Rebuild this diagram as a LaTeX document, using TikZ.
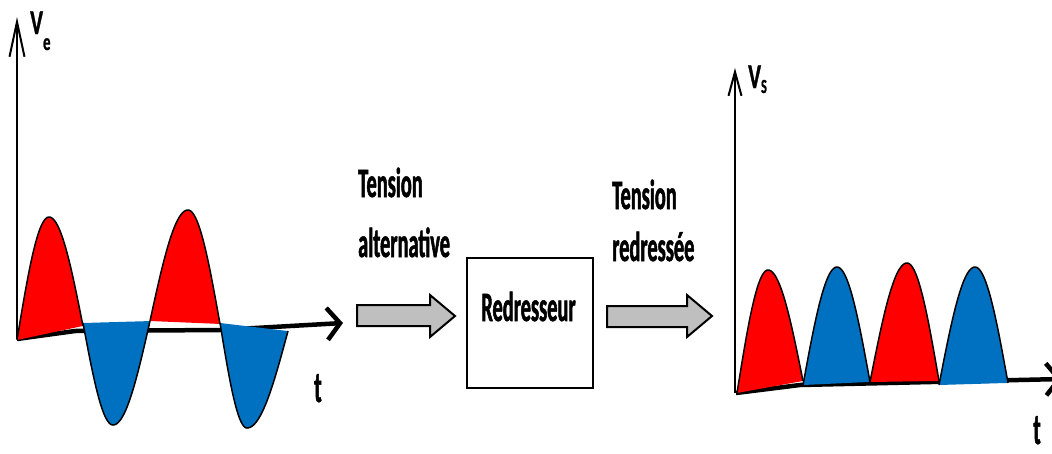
\documentclass[tikz,border=0pt]{standalone}
\usepackage{fontspec}
\newfontfamily\nar[FakeStretch=0.485,BoldFeatures={FakeBold=1.2}]{Carlito}
\newfontfamily\narax[FakeStretch=0.62,BoldFeatures={FakeBold=0.8}]{Carlito}
\usetikzlibrary{arrows.meta}

\definecolor{humpred}{HTML}{FF0000}
\definecolor{humpblue}{HTML}{0070C0}

% one half-wave: fill colour, start point, peak point, end point
\newcommand{\hump}[7]{%
  \fill[#1] plot[domain=0:1,samples=30,variable=\q]
      ({#2+(#4-#2)*\q},{#3+(#5-#3)*sin(90*\q)})
    -- plot[domain=0:1,samples=30,variable=\q]
      ({#4+(#6-#4)*\q},{#5+(#7-#5)*(1-cos(90*\q))}) -- cycle;
  \draw[curve] plot[domain=0:1,samples=30,variable=\q]
      ({#2+(#4-#2)*\q},{#3+(#5-#3)*sin(90*\q)})
    -- plot[domain=0:1,samples=30,variable=\q]
      ({#4+(#6-#4)*\q},{#5+(#7-#5)*(1-cos(90*\q))});
}

\tikzset{
  curve/.style={line width=1.5pt, line join=round},
  lbl/.style={inner sep=0pt, font=\nar\bfseries\fontsize{42}{44}\selectfont},
  axlbl/.style={inner sep=0pt, font=\narax\bfseries\fontsize{35}{37}\selectfont},
  tlbl/.style={inner sep=0pt, font=\nar\bfseries\fontsize{44}{46}\selectfont},
  haxis/.style={line width=4.5pt, line join=round,
    -{Straight Barb[length=13pt,width=32pt]}},
  garrow/.style={draw=black, line width=2pt, fill=gray!50, line join=miter},
  block/.style={draw=black, line width=2pt, minimum width=126pt,
    minimum height=130pt, inner sep=0pt}
}

\begin{document}
\begin{tikzpicture}[x=1pt,y=-1pt]
\useasboundingbox (0,0) rectangle (1052,453);

% ---------- input voltage ----------
\coordinate (o1) at (17,339);
\coordinate (e1) at (343,323);
\draw[haxis] (o1) -- (75,331) -- (220,330) -- (e1);
\hump{humpred}{17}{340}{49}{217}{83}{326}
\hump{humpblue}{83}{323}{113}{425}{150}{321}
\hump{humpred}{150}{321}{188}{210}{220}{324}
\hump{humpblue}{220}{323}{247}{428}{288}{331}
\coordinate (v1) at (17,17);
\draw[line width=2pt, -{Straight Barb[length=35pt,width=15pt]}] (o1) -- (v1);
\node[axlbl, anchor=base west] (ve) at (30,34)
  {V\raisebox{-16pt}{\fontsize{24}{24}\selectfont e}};
\node[tlbl, anchor=base] (t1) at (318,402) {t};

% ---------- rectifier ----------
\node[lbl, anchor=base west] (ta) at (358,197) {Tension};
\node[lbl, anchor=base west] (al) at (358,257) {alternative};
\draw[garrow] (357,305) -- (430,305) -- (430,295) -- (455,316)
  -- (430,337) -- (430,326) -- (357,326) -- cycle;
\node[block] (rd) at (530,323) {};
\node[lbl, anchor=base] (rdt) at (528.5,321) {Redresseur};
\draw[garrow] (607,306) -- (687,306) -- (687,295) -- (712,316)
  -- (687,337) -- (687,327) -- (607,327) -- cycle;
\node[lbl, anchor=base west] (tb) at (612,209) {Tension};
\node[lbl, anchor=base west] (rs) at (612,261) {redressée};

% ---------- output voltage ----------
\coordinate (o2) at (736,393);
\coordinate (e2) at (1062,379);
\draw[haxis] (o2) -- (800,385) -- (e2);
\hump{humpred}{737}{393}{768}{270}{803}{381}
\hump{humpblue}{803}{385}{837}{267}{870}{382}
\hump{humpred}{870}{382}{907}{263}{939}{381}
\hump{humpblue}{939}{385}{975}{267}{1008}{383}
\coordinate (v2) at (735,68);
\draw[line width=2pt, -{Straight Barb[length=24pt,width=13pt]}] (735,393) -- (v2);
\node[axlbl, anchor=base west] (vs) at (748,88)
  {V\raisebox{-5pt}{\fontsize{20}{20}\selectfont S}};
\node[tlbl, anchor=base] (t2) at (1037,444) {t};
\end{tikzpicture}
\end{document}
